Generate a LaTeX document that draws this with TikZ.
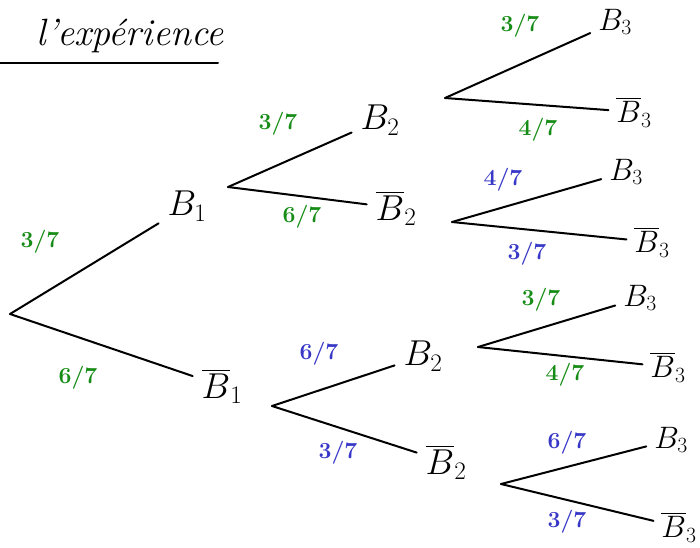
\RequirePackage{fix-cm}
\documentclass[tikz,border=0pt]{standalone}
\usepackage{amsmath}
\usepackage{xcolor}
\usepackage{tikz}
\definecolor{probgreen}{HTML}{168C16}
\definecolor{probblue}{HTML}{3838C8}

\begin{document}
\begin{tikzpicture}[x=1pt,y=-1pt]

\tikzset{
ev/.style={
    inner sep=0pt,
    outer sep=9pt,
    font=\fontsize{36}{40}\selectfont
},
lf/.style={
    inner sep=0pt,
    outer sep=8pt,
    font=\fontsize{31}{35}\selectfont
},
pg/.style={text=probgreen,font=\fontsize{23}{27}\selectfont\bfseries},
pb/.style={text=probblue,font=\fontsize{23}{27}\selectfont\bfseries},
br/.style={line width=2pt,line cap=round}
}

\useasboundingbox (0,0) rectangle (700,547);

% titre
\node[font=\fontsize{38}{42}\selectfont\itshape] (titre) at (130,36) {l'expérience};
\draw[br] (0,63) -- (218,63);

% racine et premier tirage
\coordinate (o) at (10,314);
\node[ev] (b1) at (187,206) {$B_1$};
\node[ev] (nb1) at (222,386) {$\overline{B}_1$};

% deuxieme tirage
\node[ev] (b2a) at (380,120) {$B_2$};
\node[ev] (nb2a) at (396,208) {$\overline{B}_2$};
\node[ev] (b2b) at (423,356) {$B_2$};
\node[ev] (nb2b) at (446,462) {$\overline{B}_2$};

% troisieme tirage
\node[lf] (l1) at (615,22) {$B_3$};
\node[lf] (l2) at (634,112) {$\overline{B}_3$};
\node[lf] (l3) at (626,172) {$B_3$};
\node[lf] (l4) at (652,242) {$\overline{B}_3$};
\node[lf] (l5) at (640,298) {$B_3$};
\node[lf] (l6) at (668,367) {$\overline{B}_3$};
\node[lf] (l7) at (671,440) {$B_3$};
\node[lf] (l8) at (679,527) {$\overline{B}_3$};

% points de depart des branches
\coordinate (f1) at (228,187);
\coordinate (f2) at (272,406);
\coordinate (f3) at (445,98);
\coordinate (f4) at (452,222);
\coordinate (f5) at (478,347);
\coordinate (f6) at (501,484);

\draw[br] (o) -- (b1);
\draw[br] (o) -- (nb1);
\draw[br] (f1) -- (b2a);
\draw[br] (f1) -- (nb2a);
\draw[br] (f2) -- (b2b);
\draw[br] (f2) -- (nb2b);
\draw[br] (f3) -- (l1);
\draw[br] (f3) -- (l2);
\draw[br] (f4) -- (l3);
\draw[br] (f4) -- (l4);
\draw[br] (f5) -- (l5);
\draw[br] (f5) -- (l6);
\draw[br] (f6) -- (l7);
\draw[br] (f6) -- (l8);

% probabilites
\node[pg] (p1) at (40,242) {3/7};
\node[pg] (p2) at (78,378) {6/7};
\node[pg] (p3) at (278,124) {3/7};
\node[pg] (p4) at (302,217) {6/7};
\node[pb] (p5) at (319,354) {6/7};
\node[pb] (p6) at (338,453) {3/7};
\node[pg] (p7) at (520,26) {3/7};
\node[pg] (p8) at (538,130) {4/7};
\node[pb] (p9) at (503,180) {4/7};
\node[pb] (p10) at (527,254) {3/7};
\node[pg] (p11) at (541,300) {3/7};
\node[pg] (p12) at (565,375) {4/7};
\node[pb] (p13) at (567,443) {6/7};
\node[pb] (p14) at (567,522) {3/7};

\end{tikzpicture}
\end{document}
